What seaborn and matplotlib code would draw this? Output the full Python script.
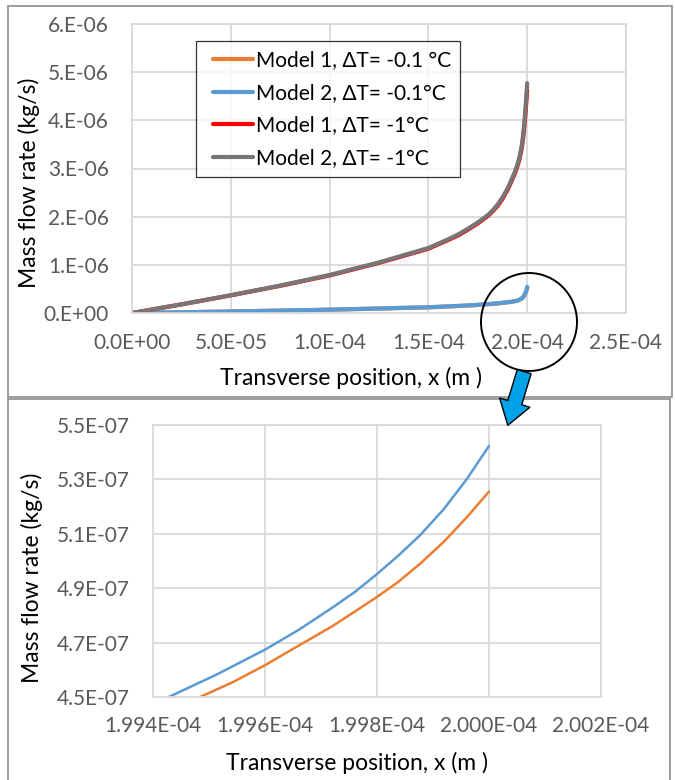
import numpy as np
import pandas as pd
import matplotlib
matplotlib.use("Agg")
import matplotlib.pyplot as plt
import seaborn as sns
from matplotlib.patches import Rectangle, Ellipse, FancyArrowPatch
from matplotlib.ticker import FuncFormatter, FixedLocator
from matplotlib.legend_handler import HandlerLine2D
from matplotlib.lines import Line2D

# ---------------- data (x in 1E-04 m) ----------------
# Model 2, dT = -1 C  (y in 1E-06 kg/s)
x_m2_1 = [0, 0.25, 0.5, 0.75, 1.0, 1.25, 1.5, 1.55, 1.6, 1.65, 1.7, 1.75, 1.8, 1.825, 1.85, 1.875,
          1.9, 1.92, 1.94, 1.95, 1.96, 1.97, 1.975, 1.98, 1.985, 1.99, 1.993, 1.996, 1.998, 2.0]
y_m2_1 = [0, 0.18, 0.37, 0.57, 0.79, 1.05, 1.35, 1.44, 1.53, 1.63, 1.75, 1.88, 2.03, 2.13, 2.25, 2.4,
          2.58, 2.76, 2.96, 3.08, 3.22, 3.42, 3.55, 3.72, 3.93, 4.17, 4.35, 4.53, 4.65, 4.77]
# Model 1, dT = -1 C  (y in 1E-06 kg/s)
x_m1_1 = [0, 0.25, 0.5, 0.75, 1.0, 1.25, 1.5, 1.55, 1.6, 1.65, 1.7, 1.75, 1.8, 1.825, 1.85, 1.875,
          1.9, 1.92, 1.94, 1.95, 1.96, 1.97, 1.975, 1.98, 1.985, 1.99, 1.993, 1.996, 1.998, 2.0]
y_m1_1 = [0, 0.178, 0.366, 0.564, 0.78, 1.04, 1.335, 1.425, 1.515, 1.61, 1.73, 1.86, 2.01, 2.11, 2.22, 2.37,
          2.55, 2.73, 2.92, 3.04, 3.18, 3.37, 3.5, 3.66, 3.86, 4.08, 4.24, 4.41, 4.52, 4.63]
# Model 2, dT = -0.1 C  (y in 1E-07 kg/s)
x_m2_01 = [0, 0.25, 0.5, 0.75, 1.0, 1.25, 1.5, 1.6, 1.7, 1.75, 1.8, 1.85, 1.9, 1.925, 1.95, 1.96,
           1.97, 1.975, 1.98, 1.985, 1.99, 1.99428, 1.99454, 1.99513, 1.996, 1.99661, 1.9972,
           1.99761, 1.998, 1.99836, 1.99877, 1.99919, 1.9996, 2.0]
y_m2_01 = [0, 0.15, 0.32, 0.5, 0.7, 0.94, 1.2, 1.38, 1.58, 1.7, 1.85, 2.02, 2.24, 2.38, 2.58, 2.76,
           2.98, 3.13, 3.35, 3.66, 4.07, 4.5, 4.525, 4.582, 4.674, 4.748, 4.828,
           4.887, 4.952, 5.016, 5.095, 5.19, 5.3, 5.423]
# Model 1, dT = -0.1 C  (y in 1E-07 kg/s)
x_m1_01 = [0, 0.25, 0.5, 0.75, 1.0, 1.25, 1.5, 1.6, 1.7, 1.75, 1.8, 1.85, 1.9, 1.925, 1.95, 1.96,
           1.97, 1.975, 1.98, 1.985, 1.99, 1.99484, 1.99543, 1.996, 1.99661, 1.9972, 1.99761,
           1.998, 1.99836, 1.99877, 1.99919, 1.9996, 2.0]
y_m1_01 = [0, 0.15, 0.31, 0.49, 0.68, 0.92, 1.17, 1.35, 1.54, 1.66, 1.81, 1.98, 2.2, 2.34, 2.54, 2.72,
           2.94, 3.09, 3.31, 3.62, 4.03, 4.5, 4.555, 4.617, 4.69, 4.76, 4.815,
           4.868, 4.92, 4.99, 5.07, 5.16, 5.255]

labels = ["Model 1, ΔT= -0.1 °C", "Model 2, ΔT= -0.1°C", "Model 1, ΔT= -1°C", "Model 2, ΔT= -1°C"]
colors = ["#ED7D31", "#5B9BD5", "#FF0000", "#7A7575"]

series = [
    (np.array(x_m1_01) * 1e-4, np.array(y_m1_01) * 1e-7),
    (np.array(x_m2_01) * 1e-4, np.array(y_m2_01) * 1e-7),
    (np.array(x_m1_1) * 1e-4, np.array(y_m1_1) * 1e-6),
    (np.array(x_m2_1) * 1e-4, np.array(y_m2_1) * 1e-6),
]

top_xticks = [0, 0.5e-4, 1.0e-4, 1.5e-4, 2.0e-4, 2.5e-4]
top_yticks = [0, 1e-6, 2e-6, 3e-6, 4e-6, 5e-6, 6e-6]
bot_xticks = [1.994e-4, 1.996e-4, 1.998e-4, 2.000e-4, 2.002e-4]
bot_yticks = [4.5e-7, 4.7e-7, 4.9e-7, 5.1e-7, 5.3e-7, 5.5e-7]

# ---------------- style ----------------
sns.set_theme(style="white")
FONT = ["Lato", "DejaVu Sans"]
plt.rcParams["font.family"] = FONT
TICKC = "#595959"
GRIDC = "#D9D9D9"
TICK_FS = 15
LEG_FS = 15
TITLE_FS = 16.5

W, H = 675, 780
fig = plt.figure(figsize=(W / 100, H / 100), dpi=100)
fig.patch.set_facecolor("white")

def fx(px):
    return px / W

def fy(py):
    return 1 - py / H

ax1 = fig.add_axes([fx(132), fy(313), (626 - 132) / W, (313 - 24) / H])
ax2 = fig.add_axes([fx(153), fy(697), (601 - 153) / W, (697 - 425) / H])

# top panel lines
for (xx, yy), c, lab in zip(series, colors, labels):
    df = pd.DataFrame({"x": xx, "y": yy})
    sns.lineplot(data=df, x="x", y="y", ax=ax1, color=c, lw=3.0, label=lab,
                 estimator=None, sort=False)
# bottom panel lines (only dT = -0.1 series)
for (xx, yy), c in zip(series[:2], colors[:2]):
    df = pd.DataFrame({"x": xx, "y": yy})
    sns.lineplot(data=df, x="x", y="y", ax=ax2, color=c, lw=1.8,
                 estimator=None, sort=False, legend=False)

def style_axes(ax, xt, yt, xfmt, yfmt, xpad, ypad):
    ax.set_xlim(xt[0], xt[-1])
    ax.set_ylim(yt[0], yt[-1])
    ax.xaxis.set_major_locator(FixedLocator(xt))
    ax.yaxis.set_major_locator(FixedLocator(yt))
    ax.xaxis.set_major_formatter(FuncFormatter(lambda v, p: format(v, xfmt)))
    ax.yaxis.set_major_formatter(FuncFormatter(lambda v, p: format(v, yfmt)))
    ax.grid(True, color=GRIDC, lw=1.3)
    ax.set_axisbelow(True)
    for s in ax.spines.values():
        s.set_color(GRIDC)
        s.set_linewidth(1.3)
    ax.tick_params(axis="both", length=0, labelsize=TICK_FS, colors=TICKC)
    ax.tick_params(axis="x", pad=xpad)
    ax.tick_params(axis="y", pad=ypad)
    ax.set_xlabel("")
    ax.set_ylabel("")
    ax.set_facecolor("white")

style_axes(ax1, top_xticks, top_yticks, ".1E", "#.0E", 14.5, 16.5)
style_axes(ax2, bot_xticks, bot_yticks, ".3E", ".1E", 13.5, 16.5)

# legend
handles, labs = ax1.get_legend_handles_labels()
leg = ax1.legend(handles, labs, loc="upper left",
                 bbox_to_anchor=((196 - 132) / 494, 1 - (41 - 24) / 289),
                 frameon=True, fancybox=False, edgecolor="black",
                 handlelength=2.3, handletextpad=0.12, labelspacing=0.6,
                 borderpad=0.45, borderaxespad=0, prop={"family": FONT, "size": LEG_FS},
                 handler_map={Line2D: HandlerLine2D(xpad=0.35)})
leg.get_frame().set_linewidth(0.9)
for t in leg.get_texts():
    t.set_color("black")

# axis titles
fig.text(fx(351), fy(378), "Transverse position, x (m )", ha="center", va="center",
         fontsize=TITLE_FS, color="black", family=FONT)
fig.text(fx(29), fy(183), "Mass flow rate (kg/s)", ha="center", va="center",
         rotation=90, fontsize=TITLE_FS, color="black", family=FONT)
fig.text(fx(357), fy(763), "Transverse position, x (m )", ha="center", va="center",
         fontsize=TITLE_FS, color="black", family=FONT)
fig.text(fx(32), fy(578), "Mass flow rate (kg/s)", ha="center", va="center",
         rotation=90, fontsize=TITLE_FS, color="black", family=FONT)

# panel borders
fig.add_artist(Rectangle((fx(8), fy(397)), (672 - 8) / W, (397 - 6) / H,
                         transform=fig.transFigure, fill=False, ec="#8C8C8C", lw=1.2, zorder=0.5))
fig.add_artist(Rectangle((fx(8), fy(790)), (670 - 8) / W, (790 - 399) / H,
                         transform=fig.transFigure, fill=False, ec="#8C8C8C", lw=1.2, zorder=0.5))

# zoom circle and arrow
fig.add_artist(Ellipse((fx(529), fy(322)), 96 / W, 98 / H, transform=fig.transFigure,
                       fill=False, ec="black", lw=1.4, zorder=5))
arr = FancyArrowPatch((525 / 100, (H - 369) / 100), (507 / 100, (H - 428) / 100),
                      transform=fig.dpi_scale_trans,
                      arrowstyle="simple,head_width=1.2,head_length=0.9,tail_width=0.55",
                      mutation_scale=19, fc="#00A2E8", ec="black", lw=1.0, zorder=6)
fig.add_artist(arr)

fig.savefig("out.png", dpi=100, facecolor="white")
